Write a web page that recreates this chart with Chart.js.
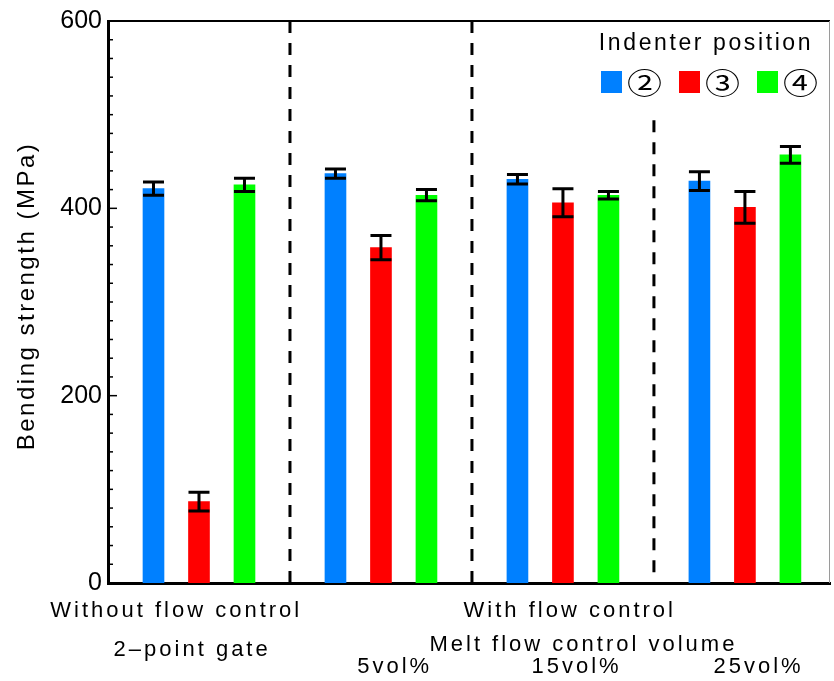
<!DOCTYPE html>
<html>
<head>
<meta charset="utf-8">
<script src="https://cdn.jsdelivr.net/npm/chart.js@4.4.1/dist/chart.umd.min.js"></script>
<style>
  html, body { margin: 0; padding: 0; background: #fff; }
  canvas { display: block; }
</style>
</head>
<body>
<canvas id="chart" width="834" height="681"></canvas>
<script>
// Bending strength (MPa) per gate condition, one array per indenter position
const conditions = ['2–point gate', '5vol%', '15vol%', '25vol%'];
const positionLabels = ['②', '③', '④'];
const pos2Values = [421, 437, 431, 429];
const pos3Values = [87, 358, 406, 401];
const pos4Values = [425, 414, 414, 457];
const pos2Errors = [7, 5, 5, 10];
const pos3Errors = [10, 13, 15, 17];
const pos4Errors = [7, 6, 4, 9];
const yTicks = [0, 200, 400, 600];

// texts around the axes
const yTitle = 'Bending strength (MPa)';
const groupTitles = ['Without flow control', 'With flow control'];
const volumeTitle = 'Melt flow control volume';

const colors = ['#0080ff', '#ff0000', '#00ff00'];
const FONT = '"Liberation Sans", Arial, sans-serif';

// each condition takes 4 slots: 3 bars + a gap where the separator sits
const slot = (g, s) => 4 * g + s;

function makeSet(label, values, errors, s) {
  return {
    label: label,
    data: values.map((v, g) => ({ x: slot(g, s), y: v })),
    errors: errors,
    backgroundColor: colors[s],
    borderWidth: 0,
    barThickness: 21,
    grouped: false
  };
}

const frame = {
  id: 'frame',
  beforeDatasetsDraw(chart) {
    const { ctx, chartArea: a, scales: { x, y } } = chart;
    ctx.save();
    // top + right border
    ctx.strokeStyle = '#000';
    ctx.lineWidth = 2;
    ctx.beginPath();
    ctx.moveTo(a.left, a.top);
    ctx.lineTo(a.right, a.top);
    ctx.stroke();
    ctx.strokeStyle = '#9a9a9a';
    ctx.lineWidth = 1;
    ctx.beginPath();
    ctx.moveTo(a.right - 0.5, a.top);
    ctx.lineTo(a.right - 0.5, a.bottom);
    ctx.stroke();

    // inward ticks, minor every 20
    ctx.strokeStyle = '#000';
    ctx.lineWidth = 1.5;
    for (let v = y.min; v <= y.max; v += 20) {
      const py = y.getPixelForValue(v);
      const len = yTicks.includes(v) ? 9 : 5;
      ctx.beginPath();
      ctx.moveTo(a.left, py);
      ctx.lineTo(a.left + len, py);
      ctx.stroke();
    }

    // dashed separators between conditions
    ctx.setLineDash([12, 10]);
    ctx.lineWidth = 3;
    [[3, 600, 0], [7, 600, 0], [11, 494, 9]].forEach(([sx, y0, y1]) => {
      const px = x.getPixelForValue(sx);
      ctx.beginPath();
      ctx.moveTo(px, y.getPixelForValue(y0));
      ctx.lineTo(px, y.getPixelForValue(y1));
      ctx.stroke();
    });
    ctx.restore();
  }
};

const errorBars = {
  id: 'errorBars',
  afterDatasetsDraw(chart) {
    const { ctx, scales: { y } } = chart;
    ctx.save();
    ctx.strokeStyle = '#000';
    ctx.lineWidth = 3;
    chart.data.datasets.forEach((ds, i) => {
      chart.getDatasetMeta(i).data.forEach((bar, j) => {
        const v = ds.data[j].y, e = ds.errors[j];
        const top = y.getPixelForValue(v + e);
        const bot = y.getPixelForValue(v - e);
        const half = bar.width / 2;
        ctx.beginPath();
        ctx.moveTo(bar.x, top);
        ctx.lineTo(bar.x, bot);
        ctx.moveTo(bar.x - half, top);
        ctx.lineTo(bar.x + half, top);
        ctx.moveTo(bar.x - half, bot);
        ctx.lineTo(bar.x + half, bot);
        ctx.stroke();
      });
    });
    ctx.restore();
  }
};

const legendBox = {
  id: 'legendBox',
  afterDraw(chart) {
    const { ctx, chartArea: a } = chart;
    ctx.save();
    ctx.fillStyle = '#000';
    ctx.letterSpacing = '2.6px';
    ctx.font = '23px ' + FONT;
    ctx.textAlign = 'center';
    ctx.textBaseline = 'alphabetic';
    ctx.fillText('Indenter position', a.right - 124, a.top + 29);

    ctx.letterSpacing = '0px';
    ctx.textAlign = 'left';
    ctx.textBaseline = 'middle';
    let px = a.right - 229;
    const cy = a.top + 61;
    chart.data.datasets.forEach(ds => {
      ctx.fillStyle = ds.backgroundColor;
      ctx.fillRect(px, cy - 11, 21, 22);
      ctx.fillStyle = '#000';
      ctx.font = '28px "Noto Sans CJK JP"';
      const w = ctx.measureText(ds.label).width;
      ctx.save();
      ctx.translate(px + 26, cy + 1);
      ctx.scale(1.25, 1);
      ctx.fillText(ds.label, 0, 0);
      ctx.restore();
      px += 26 + w * 1.25 + 17;
    });
    ctx.restore();
  }
};

const axisTexts = {
  id: 'axisTexts',
  afterDraw(chart) {
    const { ctx, chartArea: a, scales: { x } } = chart;
    ctx.save();
    ctx.fillStyle = '#000';
    ctx.textAlign = 'center';
    ctx.textBaseline = 'alphabetic';

    // y title, rotated
    ctx.font = '24px ' + FONT;
    ctx.letterSpacing = '2.5px';
    ctx.save();
    ctx.translate(34, (a.top + a.bottom) / 2 - 6);
    ctx.rotate(-Math.PI / 2);
    ctx.fillText(yTitle, 0, 0);
    ctx.restore();

    ctx.font = '22px ' + FONT;
    ctx.letterSpacing = '3px';
    ctx.fillText(groupTitles[0], x.getPixelForValue(0.5), 617);
    ctx.fillText(groupTitles[1], x.getPixelForValue(9.15), 617);
    ctx.fillText(conditions[0], x.getPixelForValue(0.85), 656);
    ctx.fillText(volumeTitle, x.getPixelForValue(9.45), 651);
    conditions.slice(1).forEach((c, g) => {
      ctx.fillText(c, x.getPixelForValue(slot(g + 1, 1) + 0.3), 673);
    });
    ctx.restore();
  }
};

new Chart(document.getElementById('chart'), {
  type: 'bar',
  data: {
    datasets: [
      makeSet(positionLabels[0], pos2Values, pos2Errors, 0),
      makeSet(positionLabels[1], pos3Values, pos3Errors, 1),
      makeSet(positionLabels[2], pos4Values, pos4Errors, 2)
    ]
  },
  options: {
    responsive: false,
    animation: false,
    layout: { padding: { top: 21, right: 4, left: 0, bottom: 0 } },
    plugins: {
      legend: { display: false },
      tooltip: { enabled: false }
    },
    scales: {
      x: {
        type: 'linear',
        offset: false,
        min: -1,
        max: 14.87,
        grid: { display: false, drawTicks: false },
        ticks: { display: false },
        border: { display: true, color: '#000', width: 3 },
        afterFit(s) { s.height = 98; }
      },
      y: {
        min: 0,
        max: 600,
        afterBuildTicks(s) { s.ticks = yTicks.map(v => ({ value: v })); },
        grid: { display: false, drawTicks: false },
        border: { display: true, color: '#000', width: 3 },
        ticks: {
          color: '#000',
          padding: 6,
          font: { size: 25, family: FONT }
        },
        afterFit(s) { s.width = 108; }
      }
    }
  },
  plugins: [frame, errorBars, legendBox, axisTexts]
});
</script>
</body>
</html>
